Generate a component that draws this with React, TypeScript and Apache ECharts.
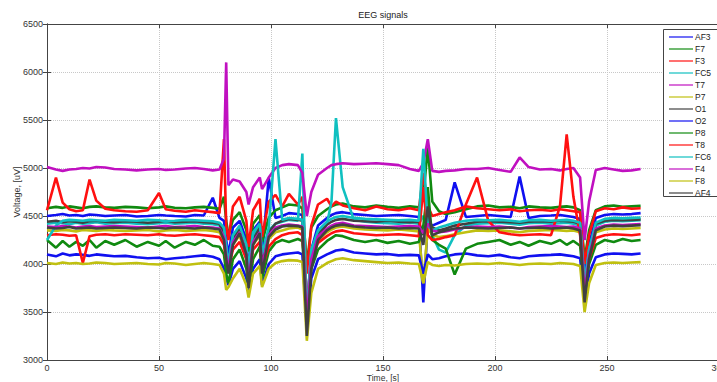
import React, { useEffect, useRef } from "react";
import * as echarts from "echarts";

const time = [
  0, 4, 7, 10, 13, 16, 19, 22, 26, 30,
  35, 40, 45, 50, 53, 57, 62, 66, 70, 74,
  77, 79, 80, 81, 83, 86, 89, 90, 92, 95,
  96, 99, 102, 105, 108, 112, 114, 116, 118, 121,
  125, 127, 129, 132, 137, 142, 147, 152, 157, 162,
  166, 168, 170, 172, 175, 178, 182, 187, 192, 197,
  202, 207, 211, 215, 220, 225, 229, 232, 235, 238,
  240, 242, 245, 249, 253, 257, 261, 265,
];

const channelNames = ["AF3", "F7", "F3", "FC5", "T7", "P7", "O1", "O2", "P8", "T8", "FC6", "F4", "F8", "AF4"];

const AF3 = [
  4500, 4510, 4520, 4505, 4510, 4500, 4515, 4510, 4500, 4505,
  4510, 4495, 4500, 4510, 4505, 4500, 4495, 4510, 4505, 4690,
  4480, 4450, 4250, 4100, 4380, 4450, 4250, 3950, 4350, 4440,
  4100, 4900, 4480, 4500, 4530, 4520, 4510, 3500, 4150, 4400,
  4480, 4510, 4530, 4540, 4520, 4510, 4500, 4505, 4510, 4500,
  4490, 3600, 4450, 4400, 4430, 4460, 4850, 4490, 4500, 4510,
  4500, 4490, 4910, 4480, 4500, 4505, 4510, 4500, 4490, 4470,
  3900, 4200, 4480, 4510, 4520, 4515, 4520, 4530,
];
const F7 = [
  4580, 4595, 4585, 4600, 4590, 4580, 4595, 4600, 4590, 4585,
  4595, 4590, 4580, 4590, 4600, 4585, 4580, 4590, 4595, 4585,
  4575, 4700, 4450, 4300, 4460, 4540, 4350, 4130, 4420, 4510,
  4230, 4480, 4560, 4590, 4620, 4610, 4580, 4000, 4380, 4500,
  4570, 4600, 4620, 4630, 4600, 4590, 4610, 4595, 4585, 4600,
  4590, 4700, 5220, 4650, 4550, 4520, 4540, 4570, 4600, 4610,
  4590, 4595, 4580, 4600, 4590, 4585, 4595, 4600, 4590, 4560,
  4050, 4350, 4560, 4600, 4610, 4595, 4600, 4605,
];
const F3 = [
  4560, 4900, 4640, 4570, 4550, 4560, 4880, 4660, 4575, 4560,
  4550, 4545, 4560, 4740, 4570, 4555, 4545, 4560, 4550, 4540,
  4530, 5300, 4400, 4250, 4600, 4700, 4450, 4180, 4560, 4680,
  4280, 4650, 4720, 4600, 4730, 4620, 4700, 3900, 4400, 4620,
  4680, 4600, 4650, 4610, 4580, 4560, 4600, 4570, 4560, 4580,
  4560, 4950, 4600, 4500, 4520, 4540, 4560, 4600, 4580, 4570,
  4560, 4570, 4550, 4560, 4565, 4555, 4570, 4560, 4550, 4540,
  4000, 4300, 4550, 4580, 4570, 4590, 4575, 4580,
];
const FC5 = [
  4420, 4430, 4425, 4415, 4430, 4420, 4425, 4435, 4420, 4425,
  4430, 4420, 4415, 4425, 4430, 4420, 4425, 4430, 4420, 4415,
  4400, 4350, 4200, 4000, 4300, 4380, 4150, 3900, 4300, 4390,
  4050, 4350, 4420, 4440, 4460, 4450, 5150, 3450, 4100, 4330,
  4420, 4650, 5520, 4800, 4460, 4440, 4430, 4425, 4420, 4430,
  4420, 4500, 4400, 4300, 4150, 4120, 4300, 4400, 4420, 4425,
  4430, 4420, 4410, 4425, 4430, 4420, 4425, 4430, 4420, 4400,
  3800, 4150, 4400, 4440, 4450, 4445, 4450, 4455,
];
const T7 = [
  5010, 4985, 4970, 4985, 4990, 5000, 4995, 5010, 5005, 4990,
  4985, 4975, 4985, 4990, 4980, 4985, 4995, 5000, 4990, 4975,
  4985, 5100, 6100, 4820, 4880, 4860, 4750, 4620, 4800, 4900,
  4780, 4900, 5000, 5030, 5040, 5030, 4950, 4500, 4750, 4930,
  5000, 5030, 5040, 5050, 5040, 5045, 5050, 5040, 5030, 4990,
  4970, 5050, 5300, 4970, 4960, 4970, 4975, 4990, 4990, 5000,
  4980, 4960, 5110, 5010, 4985, 4990, 4975, 4990, 5000, 4900,
  4250, 4650, 4980, 5000, 4985, 4970, 4975, 4990,
];
const P7 = [
  4350, 4345, 4355, 4350, 4340, 4355, 4350, 4345, 4355, 4350,
  4345, 4350, 4355, 4340, 4350, 4355, 4345, 4350, 4355, 4345,
  4330, 4250, 4050, 3900, 4200, 4300, 4050, 3780, 4200, 4300,
  3920, 4260, 4330, 4350, 4370, 4380, 4360, 3400, 4000, 4250,
  4330, 4360, 4380, 4390, 4370, 4360, 4355, 4350, 4360, 4350,
  4340, 3800, 4380, 4300, 4280, 4290, 4310, 4330, 4350, 4345,
  4350, 4340, 4330, 4345, 4350, 4355, 4350, 4345, 4350, 4330,
  3700, 4050, 4330, 4360, 4370, 4365, 4370, 4375,
];
const O1 = [
  4440, 4450, 4435, 4445, 4440, 4430, 4445, 4450, 4440, 4435,
  4445, 4440, 4430, 4440, 4450, 4435, 4440, 4445, 4435, 4430,
  4420, 4300, 4100, 3950, 4250, 4380, 4150, 3850, 4250, 4380,
  4000, 4330, 4420, 4450, 4470, 4460, 4450, 3300, 4000, 4300,
  4410, 4440, 4460, 4470, 4450, 4445, 4440, 4450, 4440, 4435,
  4440, 4300, 4500, 4380, 4350, 4370, 4400, 4420, 4440, 4445,
  4440, 4435, 4430, 4440, 4445, 4440, 4450, 4445, 4440, 4420,
  3650, 4100, 4420, 4450, 4460, 4455, 4460, 4465,
];
const O2 = [
  4100, 4080, 4110, 4090, 4100, 4095, 4085, 4100, 4090, 4080,
  4085, 4070, 4060, 4065, 4050, 4060, 4070, 4080, 4090, 4075,
  4050, 3950, 3850, 3780, 3950, 4030, 3850, 3700, 3950, 4050,
  3780, 4000, 4080, 4100, 4110, 4120, 4100, 3350, 3850, 4050,
  4100, 4120, 4140, 4150, 4120, 4110, 4100, 4105, 4090, 4095,
  4090, 3900, 4100, 4050, 4060, 4080, 4100, 4110, 4090, 4080,
  4095, 4070, 4060, 4080, 4090, 4095, 4100, 4090, 4080, 4060,
  3600, 3900, 4070, 4100, 4110, 4105, 4100, 4110,
];
const P8 = [
  4250, 4170, 4240, 4180, 4230, 4190, 4250, 4170, 4240, 4200,
  4250, 4180, 4230, 4190, 4240, 4170, 4230, 4200, 4250, 4190,
  4180, 4100, 3900, 3800, 4050, 4150, 3950, 3750, 4050, 4180,
  3850, 4130, 4220, 4250, 4230, 4260, 4240, 3500, 3950, 4150,
  4240, 4270, 4300, 4290, 4250, 4230, 4250, 4220, 4240, 4210,
  4230, 4400, 4800, 4250, 4200, 4160, 3890, 4160, 4210, 4230,
  4250, 4200, 4230, 4190, 4240, 4210, 4250, 4200, 4240, 4190,
  3700, 4000, 4200, 4250, 4230, 4260, 4240, 4250,
];
const T8 = [
  4300, 4310, 4305, 4295, 4300, 4010, 4290, 4305, 4310, 4300,
  4310, 4305, 4300, 4310, 4300, 4295, 4305, 4310, 4300, 4290,
  4280, 4200, 4050, 3950, 4150, 4230, 4050, 3850, 4150, 4230,
  3950, 4180, 4260, 4300, 4320, 4330, 4300, 3600, 4050, 4220,
  4290, 4320, 4340, 4350, 4320, 4310, 4300, 4305, 4310, 4300,
  4290, 4800, 4300, 4250, 4260, 4280, 4300, 4620, 4900, 4450,
  4330, 4310, 4300, 4305, 4310, 4300, 4600, 5350, 4700, 4300,
  3750, 4050, 4270, 4300, 4310, 4305, 4300, 4310,
];
const FC6 = [
  4250, 4400, 4450, 4460, 4455, 4450, 4460, 4455, 4450, 4460,
  4455, 4450, 4460, 4455, 4445, 4450, 4460, 4455, 4450, 4445,
  4430, 4380, 4150, 4000, 4300, 4400, 4200, 3950, 4330, 4420,
  4100, 4380, 5300, 4460, 4480, 4470, 4460, 3500, 4150, 4350,
  4440, 4470, 4490, 4500, 4480, 4470, 4465, 4460, 4455, 4460,
  4450, 5200, 4400, 4350, 4380, 4400, 4430, 4450, 4460, 4455,
  4460, 4450, 4440, 4455, 4460, 4450, 4455, 4460, 4450, 4430,
  3750, 4150, 4430, 4470, 4480, 4475, 4480, 4485,
];
const F4 = [
  4390, 4385, 4395, 4390, 4380, 4390, 4395, 4385, 4390, 4395,
  4390, 4385, 4380, 4390, 4395, 4385, 4390, 4395, 4385, 4380,
  4370, 4280, 4080, 3950, 4230, 4330, 4100, 3820, 4230, 4330,
  3970, 4300, 4380, 4400, 4410, 4400, 4390, 3400, 4050, 4290,
  4370, 4400, 4420, 4430, 4400, 4395, 4390, 4385, 4390, 4395,
  4390, 4320, 4420, 4350, 4330, 4340, 4360, 4380, 4390, 4385,
  4390, 4380, 4370, 4385, 4390, 4395, 4390, 4385, 4390, 4370,
  3700, 4080, 4370, 4400, 4410, 4405, 4410, 4415,
];
const F8 = [
  4010, 4000, 4015, 4005, 4010, 4000, 4005, 4015, 4010, 4000,
  4005, 4010, 4000, 3995, 4010, 4005, 3990, 4000, 4010, 4000,
  3990, 3900, 3730, 3760, 3850, 3950, 3780, 3650, 3900, 3980,
  3760, 3950, 4010, 4030, 4040, 4035, 4020, 3200, 3700, 3950,
  4010, 4030, 4050, 4060, 4040, 4030, 4020, 4010, 4015, 4005,
  4000, 3800, 4020, 3990, 3980, 3990, 3985, 4000, 4005, 4000,
  4010, 4000, 3990, 4000, 4005, 4000, 4010, 4005, 4000, 3980,
  3500, 3800, 3990, 4010, 4015, 4010, 4015, 4020,
];
const AF4 = [
  4380, 4370, 4375, 4385, 4370, 4375, 4380, 4370, 4375, 4380,
  4375, 4370, 4380, 4375, 4370, 4380, 4375, 4370, 4380, 4370,
  4360, 4250, 4050, 3900, 4200, 4320, 4100, 3750, 4200, 4320,
  3900, 4280, 4360, 4390, 4400, 4395, 4380, 3250, 3950, 4250,
  4350, 4380, 4400, 4410, 4390, 4380, 4375, 4380, 4370, 4375,
  4370, 4200, 4600, 4300, 4330, 4350, 4370, 4380, 4375, 4370,
  4375, 4380, 4370, 4375, 4380, 4370, 4375, 4380, 4370, 4350,
  3600, 4050, 4350, 4390, 4400, 4395, 4400, 4405,
];

const channelValues = [AF3, F7, F3, FC5, T7, P7, O1, O2, P8, T8, FC6, F4, F8, AF4];
const channelColors = [
  "#1010f0", "#108a10", "#ff1010", "#10c0c0", "#c010c0", "#c0c010", "#404040",
  "#1010f0", "#108a10", "#ff1010", "#10c0c0", "#c010c0", "#c0c010", "#404040",
];

const xTicks = { min: 0, max: 300, interval: 50 };
const yTicks = { min: 3000, max: 6500, interval: 500 };

const FONT = "'Liberation Sans', Arial, sans-serif";

export default function App() {
  const ref = useRef<HTMLDivElement>(null);
  useEffect(() => {
    document.body.style.margin = "0";
    if (!ref.current) return;
    const chart = echarts.init(ref.current, null, { renderer: "svg" });
    const axisLine = { show: true, lineStyle: { color: "#444", width: 1 } };
    const tickIn = { show: true, inside: true, length: 4, lineStyle: { color: "#444" } };
    const splitLine = { show: true, lineStyle: { color: "#c8c8c8", type: "dotted", width: 1 } };
    const fmt = (v: number) => String(v);

    // legend drawn as graphic elements (MATLAB-style box)
    const legendX = 663;
    const legendY = 29;
    const rowH = 12;
    const legendChildren: any[] = [
      {
        type: "rect",
        z: 100,
        shape: { x: legendX + 0.5, y: legendY + 0.5, width: 56, height: 167 },
        style: { fill: "#ffffff", stroke: "#444", lineWidth: 1 },
      },
    ];
    channelNames.forEach((name, k) => {
      const cy = legendY + 8 + k * rowH;
      legendChildren.push({
        type: "line",
        z: 101,
        shape: { x1: legendX + 6, y1: cy, x2: legendX + 30, y2: cy },
        style: { stroke: channelColors[k], lineWidth: 1.2 },
      });
      legendChildren.push({
        type: "text",
        z: 101,
        x: legendX + 32,
        y: cy,
        style: {
          text: name,
          fill: "#222",
          font: `8.5px ${FONT}`,
          textVerticalAlign: "middle",
          verticalAlign: "middle",
          textAlign: "left",
          align: "left",
        },
      });
    });

    const centered = {
      align: "center",
      textAlign: "center",
      verticalAlign: "middle",
      textVerticalAlign: "middle",
    };

    chart.setOption({
      animation: false,
      backgroundColor: "#ffffff",
      grid: { left: 47, top: 24, width: 672, height: 336, outerBoundsMode: "none", containLabel: false },
      graphic: [
        {
          type: "text",
          x: 383,
          y: 15,
          style: { text: "EEG signals", fill: "#222", font: `9px ${FONT}`, ...centered },
        },
        {
          type: "text",
          x: 383,
          y: 377.5,
          style: { text: "Time, [s]", fill: "#333", font: `8.5px ${FONT}`, ...centered },
        },
        {
          type: "text",
          x: 17,
          y: 192,
          rotation: Math.PI / 2,
          style: { text: "Voltage, [uV]", fill: "#333", font: `9px ${FONT}`, ...centered },
        },
        { type: "group", z: 100, children: legendChildren },
      ],
      xAxis: [
        {
          type: "value",
          ...xTicks,
          axisLine,
          axisTick: tickIn,
          axisLabel: { fontSize: 9, color: "#333", margin: 3, fontFamily: FONT, formatter: fmt },
          splitLine,
        },
        {
          type: "value",
          position: "top",
          ...xTicks,
          axisLine,
          axisTick: tickIn,
          axisLabel: { show: false },
          splitLine: { show: false },
        },
      ],
      yAxis: [
        {
          type: "value",
          ...yTicks,
          axisLine,
          axisTick: tickIn,
          axisLabel: { fontSize: 9, color: "#333", margin: 4, fontFamily: FONT, formatter: fmt },
          splitLine,
        },
        {
          type: "value",
          position: "right",
          ...yTicks,
          axisLine,
          axisTick: tickIn,
          axisLabel: { show: false },
          splitLine: { show: false },
        },
      ],
      series: channelNames.map((name, k) => ({
        name,
        type: "line",
        showSymbol: false,
        symbol: "none",
        data: time.map((t, i) => [t, channelValues[k][i]]),
        lineStyle: { width: 2.6, color: channelColors[k] },
        itemStyle: { color: channelColors[k] },
      })),
    });
    return () => chart.dispose();
  }, []);
  return <div ref={ref} style={{ width: 717, height: 382 }} />;
}
